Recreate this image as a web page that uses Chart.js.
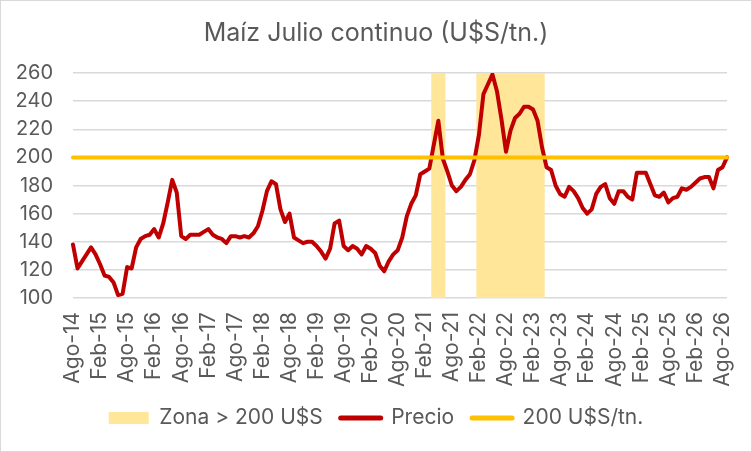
<!DOCTYPE html>
<html lang="es">
<head>
<meta charset="utf-8">
<title>Maíz Julio continuo</title>
<script src="https://cdn.jsdelivr.net/npm/chart.js@4.4.1/dist/chart.umd.min.js"></script>
<style>
  html, body { margin: 0; padding: 0; background: #fff; }
  #marco { width: 750px; height: 450px; border: 1px solid #d9d9d9; }
  canvas { display: block; }
</style>
</head>
<body>
<div id="marco"><canvas id="grafico" width="750" height="450"></canvas></div>
<script>
// Meses en castellano, la serie arranca en Ago-14
const MESES = ['Ene', 'Feb', 'Mar', 'Abr', 'May', 'Jun', 'Jul', 'Ago', 'Sep', 'Oct', 'Nov', 'Dic'];
const MES_INICIO = 7;
const ANIO_INICIO = 2014;

// Precio mensual (U$S/tn.), Ago-14 .. Sep-26
const precio = [
  138, 121, 126, 131, 136, 131, 124, 116, 115, 111, 102, 103,
  122, 121, 136, 142, 144, 145, 149, 143, 153, 168, 184, 175,
  144, 142, 145, 145, 145, 147, 149, 145, 143, 142, 139, 144,
  144, 143, 144, 143, 146, 151, 162, 176, 183, 181, 163, 154,
  160, 143, 141, 139, 140, 140, 137, 133, 128, 135, 153, 155,
  137, 134, 137, 135, 131, 137, 135, 132, 123, 119, 126, 131,
  134, 143, 158, 167, 173, 188, 190, 192, 209, 226, 199, 190,
  180, 176, 179, 184, 188, 198, 216, 245, 252, 259, 247, 227,
  204, 219, 228, 231, 236, 236, 234, 226, 207, 193, 191, 180,
  174, 172, 179, 176, 171, 164, 160, 163, 174, 179, 181, 171,
  167, 176, 176, 172, 170, 189, 189, 189, 181, 173, 172, 175,
  168, 171, 172, 178, 177, 179, 182, 185, 186, 186, 178, 191,
  193, 200
];

// Referencia y tramos con precio por encima de 200
const umbral = 200;
const zonaTope = 260;
const zonaTramos = [
  ['Abr-21', 'Jun-21'],
  ['Feb-22', 'Abr-23']
];

const yTicks = { min: 100, max: 260, paso: 20 };

const GRIS = '#595959';

const etiquetas = precio.map((_, i) => {
  const m = MES_INICIO + i;
  const anio = ANIO_INICIO + Math.floor(m / 12);
  return MESES[m % 12] + '-' + String(anio).slice(-2);
});

const zona = etiquetas.map((_, i) => {
  const dentro = zonaTramos.some(([a, b]) => i >= etiquetas.indexOf(a) && i <= etiquetas.indexOf(b));
  return dentro ? zonaTope : null;
});

const lineaUmbral = [
  { x: etiquetas[0], y: umbral },
  { x: etiquetas[etiquetas.length - 1], y: umbral }
];

Chart.defaults.font.family = 'Inter';
Chart.defaults.color = GRIS;

new Chart(document.getElementById('grafico').getContext('2d'), {
  type: 'line',
  data: {
    labels: etiquetas,
    datasets: [
      {
        type: 'bar',
        label: 'Zona > 200 U$S',
        data: zona,
        backgroundColor: '#FFE699',
        borderWidth: 0,
        barPercentage: 1,
        categoryPercentage: 1,
        order: 3
      },
      {
        label: 'Precio',
        data: precio,
        borderColor: '#C00000',
        backgroundColor: '#C00000',
        borderWidth: 4,
        pointRadius: 0,
        tension: 0,
        borderJoinStyle: 'round',
        borderCapStyle: 'round',
        order: 2
      },
      {
        label: '200 U$S/tn.',
        data: lineaUmbral,
        borderColor: '#FFC000',
        backgroundColor: '#FFC000',
        borderWidth: 4,
        pointRadius: 0,
        borderCapStyle: 'round',
        order: 1
      }
    ]
  },
  options: {
    responsive: false,
    animation: false,
    events: [],
    layout: { padding: { left: 0, right: 0, top: 0, bottom: 12.5 } },
    scales: {
      x: {
        type: 'category',
        offset: false,
        grid: { display: false, drawTicks: false },
        border: { display: false },
        ticks: {
          autoSkip: false,
          maxRotation: 90,
          minRotation: 90,
          padding: 14,
          color: GRIS,
          font: { size: 21 },
          callback(value, index) {
            return index % 6 === 0 ? this.getLabelForValue(value) : null;
          }
        },
        afterFit(scale) {
          // margen derecho del área de trazado, sin descentrar título y leyenda
          scale.height = 91.5;
          scale.paddingLeft = 0;
          scale.paddingRight = 24;
        }
      },
      y: {
        min: yTicks.min,
        max: yTicks.max,
        grid: { color: '#d9d9d9', lineWidth: 1.5, drawTicks: false },
        border: { display: false },
        ticks: {
          stepSize: yTicks.paso,
          padding: 20,
          color: GRIS,
          font: { size: 20 }
        },
        afterFit(scale) { scale.width = 72; }
      }
    },
    plugins: {
      title: {
        display: true,
        text: 'Maíz Julio continuo (U$S/tn.)',
        color: GRIS,
        font: { size: 25, weight: 'normal' },
        padding: { top: 17, bottom: 25 }
      },
      legend: {
        position: 'bottom',
        labels: {
          usePointStyle: true,
          pointStyleWidth: 40,
          boxHeight: 12,
          padding: 18,
          color: GRIS,
          font: { size: 21 },
          generateLabels(chart) {
            return chart.data.datasets.map((ds, i) => ({
              text: ds.label,
              fillStyle: ds.backgroundColor,
              strokeStyle: ds.borderColor || ds.backgroundColor,
              lineWidth: ds.type === 'bar' ? 0 : 5,
              lineCap: 'round',
              pointStyle: ds.type === 'bar' ? 'rect' : 'line',
              fontColor: GRIS,
              hidden: !chart.isDatasetVisible(i),
              datasetIndex: i
            }));
          }
        }
      },
      tooltip: { enabled: false }
    }
  }
});
</script>
</body>
</html>
